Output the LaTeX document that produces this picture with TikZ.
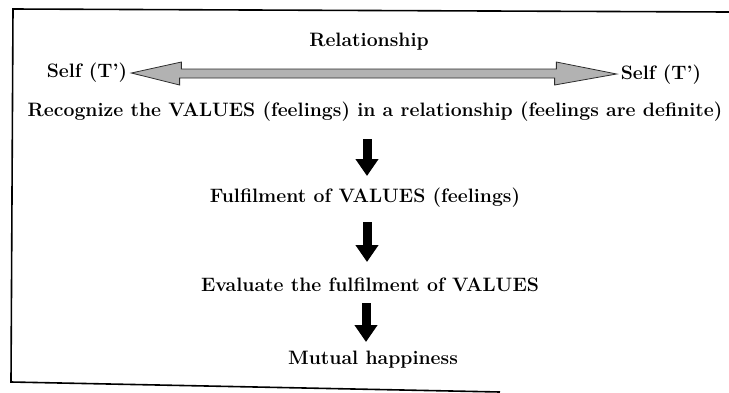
\documentclass[tikz,border=0pt]{standalone}
\usetikzlibrary{arrows.meta}
\begin{document}
\begin{tikzpicture}[x=1pt,y=-1pt,
  lbl/.style={font=\fontsize{19.4}{22}\selectfont\bfseries, inner sep=0pt, anchor=center},
  downarr/.style={line width=9pt, -{Triangle[width=22pt,length=17pt]}, black},
  frame/.style={line width=1.6pt, black}]
\useasboundingbox (0,0) rectangle (729,392);
% frame
\draw[frame] (729,12) -- (13,9) -- (11,382) -- (500,392);
% texts
\node[lbl] (rel) at (369,42) {Relationship};
\node[lbl] (selfL) at (87,73) {Self (T')};
\node[lbl] (selfR) at (661,75) {Self (T')};
\node[lbl] (rec) at (375,112) {Recognize the VALUES (feelings) in a relationship (feelings are definite)};
\node[lbl] (ful) at (365,198) {Fulfilment of VALUES (feelings)};
\node[lbl] (eva) at (370,285) {Evaluate the fulfilment of VALUES};
\node[lbl] (mut) at (373,360) {Mutual happiness};
% double arrow
\path (selfL.east) ++(4,0) coordinate (tipL) (selfR.west) ++(-4,-1) coordinate (tipR);
\filldraw[fill=gray!60, draw=gray!35!black, line width=0.8pt]
  (tipL) -- ++(50,-11) -- ++(0,7) -- ++(375,0) -- ++(0,-7) -- (tipR)
  -- ++(-62,11) -- ++(0,-7) -- ++(-375,0) -- ++(0,7) -- cycle;
% down arrows
\coordinate (a1s) at (367,139); \coordinate (a1e) at (367,176);
\coordinate (a2s) at (367,222); \coordinate (a2e) at (367,262);
\coordinate (a3s) at (366,303); \coordinate (a3e) at (366,342);
\draw[downarr] (a1s) -- (a1e);
\draw[downarr] (a2s) -- (a2e);
\draw[downarr] (a3s) -- (a3e);
\end{tikzpicture}
\end{document}
